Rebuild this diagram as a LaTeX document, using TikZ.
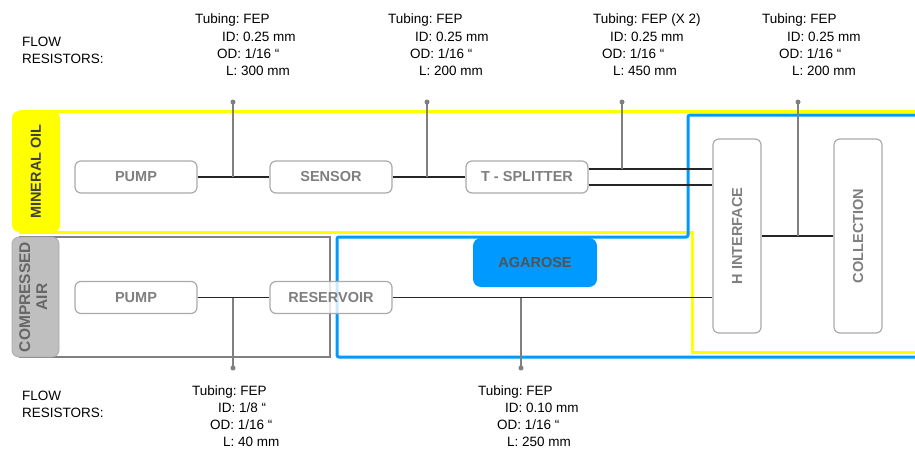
\documentclass[tikz,border=0pt]{standalone}
\usepackage{fontspec}
\setmainfont{Liberation Sans}
\usepackage{graphicx}
\frenchspacing
\definecolor{yellowC}{HTML}{FFFF00}
\definecolor{blueC}{HTML}{0099FF}
\definecolor{tapgray}{HTML}{808080}
\definecolor{boxgray}{HTML}{AAAAAA}
\definecolor{boxtext}{HTML}{7F7F7F}
\definecolor{airfill}{HTML}{BFBFBF}
\definecolor{pipecol}{HTML}{262626}
\definecolor{darktext}{HTML}{404040}
\begin{document}
\begin{tikzpicture}[x=1pt,y=-1pt,
  box/.style={draw=boxgray, line width=1.2pt, rounded corners=6pt, fill=white,
    font=\bfseries\fontsize{14.5}{16}\selectfont, text=boxtext, inner sep=0},
  pipe/.style={draw=pipecol, line width=1.3pt},
  tap/.style={draw=tapgray, line width=1.2pt},
  dot/.style={circle, fill=tapgray, inner sep=0, minimum size=5pt},
  lbl/.style={anchor=north west, inner sep=0, align=left, font=\fontsize{13.5}{17.3}\selectfont},
  lblb/.style={lbl, font=\fontsize{13.5}{17}\selectfont}]
\useasboundingbox (0,0) rectangle (915,450);

% region outlines
\draw[yellowC, line width=3pt] (915,111) -- (20,111) -- (20,232) -- (692,232) -- (692,352) -- (915,352);
\draw[tapgray, line width=2.2pt] (20,237) rectangle (330,357);
\draw[blueC, line width=3pt, rounded corners=2pt] (915,115) -- (688,115) -- (688,237) -- (337,237) -- (337,357) -- (915,357);

% side labels
\node[fill=yellowC, rounded corners=7pt, minimum width=48, minimum height=121, inner sep=0,
  font=\bfseries\fontsize{14.5}{16}\selectfont, text=darktext] (oil) at (36,171.5) {\rotatebox{90}{MINERAL OIL}};
\node[fill=airfill, draw=boxgray, line width=0.8pt, rounded corners=7pt, minimum width=47, minimum height=120, inner sep=0,
  font=\bfseries\fontsize{15.5}{16}\selectfont, text=darktext!80] (air) at (35.5,297) {\rotatebox{90}{\begin{tabular}{@{}c@{}}COMPRESSED\\[1pt]AIR\end{tabular}}};

% boxes
\node[box, minimum width=122, minimum height=32] (pump1) at (136,177) {PUMP};
\node[box, minimum width=122, minimum height=32] (sensor) at (331,177) {SENSOR};
\node[box, minimum width=122, minimum height=32] (tsplit) at (527,177) {T - SPLITTER};
\node[box, minimum width=122, minimum height=32] (pump2) at (136,297.5) {PUMP};
\node[box, minimum width=122, minimum height=32, fill opacity=0.8, text opacity=1] (res) at (331,297.5) {RESERVOIR};
\node[box, draw=none, fill=blueC, rounded corners=8pt, minimum width=124, minimum height=49, text=darktext!90] (agar) at (535,262.5) {AGAROSE};
\node[box, minimum width=48, minimum height=194] (hint) at (737,236) {\rotatebox{90}{H INTERFACE}};
\node[box, minimum width=48, minimum height=194] (coll) at (858,236) {\rotatebox{90}{COLLECTION}};

% pipes
\draw[pipe] (pump1.east) -- (sensor.west);
\draw[pipe] (sensor.east) -- (tsplit.west);
\draw[pipe] ([yshift=8pt]tsplit.east) coordinate (s1) -- (s1 -| hint.west);
\draw[pipe] ([yshift=-8pt]tsplit.east) coordinate (s2) -- (s2 -| hint.west);
\draw[pipe] (pump2.east) -- (res.west);
\draw[pipe] (res.east) -- (res.east -| hint.west);
\draw[pipe] (hint.east) -- (coll.west);

% taps
\node[dot] (d1) at (233,102) {};
\node[dot] (d2) at (427,102) {};
\node[dot] (d3) at (622,102) {};
\node[dot] (d4) at (798,102) {};
\node[dot] (d5) at (233,368) {};
\node[dot] (d6) at (521,368) {};
\draw[tap] (d1.center) -- (d1 |- pump1.east);
\draw[tap] (d2.center) -- (d2 |- sensor.east);
\draw[tap] (d3.center) -- (d3 |- s1);
\draw[tap] (d4.center) -- (d4 |- hint.east);
\draw[tap] (d5.center) -- (d5 |- pump2.east);
\draw[tap] (d6.center) -- (d6 |- res.east);

% texts
\node[lbl] (fr1) at (22,37) {FLOW\\RESISTORS:};
\node[lbl] (fr2) at (22,391) {FLOW\\RESISTORS:};
\node[lbl] (t1) at (195,14) {Tubing: FEP\\\hspace*{27pt}ID: 0.25 mm\\\hspace*{22pt}OD: 1/16 “\\\hspace*{31pt}L: 300 mm};
\node[lbl] (t2) at (388,14) {Tubing: FEP\\\hspace*{27pt}ID: 0.25 mm\\\hspace*{22pt}OD: 1/16 “\\\hspace*{31pt}L: 200 mm};
\node[lbl] (t3) at (593,14) {Tubing: FEP (X 2)\\\hspace*{17pt}ID: 0.25 mm\\\hspace*{9pt}OD: 1/16 “\\\hspace*{20pt}L: 450 mm};
\node[lbl] (t4) at (762,14) {Tubing: FEP\\\hspace*{25pt}ID: 0.25 mm\\\hspace*{17pt}OD: 1/16 “\\\hspace*{30pt}L: 200 mm};
\node[lblb] (t5) at (192,386) {Tubing: FEP\\\hspace*{26pt}ID: 1/8 “\\\hspace*{18pt}OD: 1/16 “\\\hspace*{31pt}L: 40 mm};
\node[lblb] (t6) at (478,386) {Tubing: FEP\\\hspace*{27pt}ID: 0.10 mm\\\hspace*{19pt}OD: 1/16 “\\\hspace*{29pt}L: 250 mm};
\end{tikzpicture}
\end{document}
